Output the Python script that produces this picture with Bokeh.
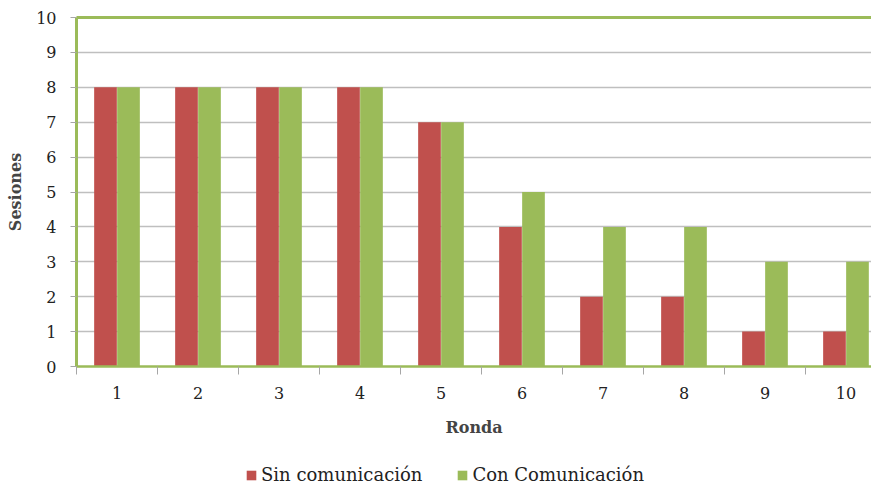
from bokeh.plotting import figure
from bokeh.models import FixedTicker, Legend, LegendItem, ColumnDataSource, LinearAxis
from bokeh.transform import dodge
from bokeh.layouts import column
from bokeh.embed import file_html
from bokeh.resources import INLINE

rondas = [1, 2, 3, 4, 5, 6, 7, 8, 9, 10]
sin_comunicacion = [8, 8, 8, 8, 7, 4, 2, 2, 1, 1]
con_comunicacion = [8, 8, 8, 8, 7, 5, 4, 4, 3, 3]
y_ticks = [0, 1, 2, 3, 4, 5, 6, 7, 8, 9, 10]
series_names = ["Sin comunicación", "Con Comunicación"]

RED = "#C0504D"
GREEN = "#9BBB59"
FONT = "DejaVu Serif"

p = figure(width=871, height=439, output_backend="svg", toolbar_location=None,
           x_range=(0.5, 10.315), y_range=(0, 10),
           min_border_left=76, min_border_top=17, min_border_right=0, min_border_bottom=0)

src = ColumnDataSource(dict(x=rondas, sin=sin_comunicacion, con=con_comunicacion))
off = 0.142
w = 0.28
p.vbar(x=dodge("x", -off, range=p.x_range), top="sin", width=w, source=src, color=RED, line_color=None)
p.vbar(x=dodge("x", off, range=p.x_range), top="con", width=w, source=src, color=GREEN, line_color=None)

p.outline_line_color = None
p.background_fill_color = "white"
p.border_fill_color = "white"

# green top border of the plot area (chart continues past the right edge)
top_axis = LinearAxis(axis_line_color=GREEN, axis_line_width=3,
                      major_tick_line_color=None, minor_tick_line_color=None,
                      major_label_text_font_size="0px", major_label_text_alpha=0)
p.add_layout(top_axis, "above")

p.xgrid.visible = False
p.ygrid.grid_line_color = "#BFBFBF"
p.ygrid.grid_line_width = 1.5
p.ygrid.ticker = FixedTicker(ticks=y_ticks)

p.yaxis.ticker = FixedTicker(ticks=y_ticks)
p.yaxis.axis_line_color = GREEN
p.yaxis.axis_line_width = 3
p.yaxis.major_tick_line_color = "#A6A6A6"
p.yaxis.major_tick_out = 6
p.yaxis.major_tick_in = 0
p.yaxis.minor_tick_line_color = None
p.yaxis.major_label_text_font = FONT
p.yaxis.major_label_text_font_size = "16px"
p.yaxis.major_label_text_color = "#222222"
p.yaxis.major_label_standoff = 14
p.yaxis.axis_label = "Sesiones"
p.yaxis.axis_label_text_font = FONT
p.yaxis.axis_label_text_font_style = "bold"
p.yaxis.axis_label_text_font_size = "16px"
p.yaxis.axis_label_standoff = 8

boundaries = [r - 0.5 for r in rondas] + [rondas[-1] + 0.5]
xa = p.below[0]
xa.ticker = FixedTicker(ticks=rondas, minor_ticks=boundaries)
xa.axis_line_color = GREEN
xa.axis_line_width = 2.5
xa.major_tick_line_color = None
xa.minor_tick_line_color = "#A6A6A6"
xa.minor_tick_out = 8
xa.minor_tick_in = 0
xa.major_label_text_font = FONT
xa.major_label_text_font_size = "16px"
xa.major_label_text_color = "#222222"
xa.major_label_standoff = 12
xa.axis_label = "Ronda"
xa.axis_label_text_font = FONT
xa.axis_label_text_font_style = "bold"
xa.axis_label_text_font_size = "16px"
xa.axis_label_standoff = 16

# legend strip below the chart (its ranges keep the series' bars out of view;
# the renderers only serve as legend swatches)
lp = figure(width=871, height=46, output_backend="svg", toolbar_location=None,
            x_range=(-100, -99), y_range=(-100, -99), min_border=0)
lp.axis.visible = False
lp.grid.visible = False
lp.outline_line_color = None
lp.background_fill_color = "white"
lp.border_fill_color = "white"
l1 = lp.vbar(x="x", top="sin", width=w, source=src, color=RED, line_color=None)
l2 = lp.vbar(x="x", top="con", width=w, source=src, color=GREEN, line_color=None)

legend = Legend(items=[LegendItem(label=series_names[0], renderers=[l1]),
                       LegendItem(label=series_names[1], renderers=[l2])],
                orientation="horizontal", location=(169, 0),
                label_text_font=FONT, label_text_font_size="18px",
                label_text_color="#222222", label_standoff=4,
                glyph_width=12, glyph_height=12, spacing=34,
                border_line_color=None, background_fill_alpha=0,
                margin=0, padding=2)
lp.add_layout(legend, "center")

layout = column(p, lp, spacing=0)
open("out.html", "w").write(file_html(layout, INLINE))
